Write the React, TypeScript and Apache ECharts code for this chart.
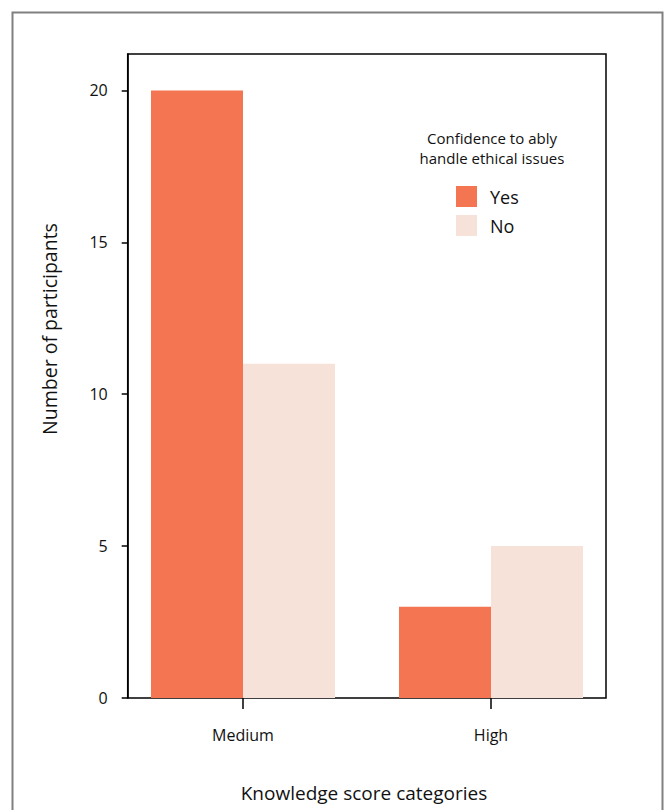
import React, { useEffect, useRef } from "react";
import * as echarts from "echarts";

const categories = ["Medium", "High"];
const yesValues = [20, 3];
const noValues = [11, 5];
const yTicks = [0, 5, 10, 15, 20];
const seriesNames = ["Yes", "No"];
const legendTitle = ["Confidence to ably", "handle ethical issues"];
const xTitle = "Knowledge score categories";
const yTitle = "Number of participants";

const FONT = "'Open Sans', 'Noto Sans', sans-serif";
const YES = "#F47551";
const NO = "#F6E2D8";

export default function App() {
  const ref = useRef<HTMLDivElement>(null);
  useEffect(() => {
    if (!ref.current) return;
    const chart = echarts.init(ref.current, null, { renderer: "svg" });
    const top = 54;
    const height = 644;
    chart.setOption({
      animation: false,
      backgroundColor: "#fff",
      textStyle: { fontFamily: FONT },
      grid: [
        { left: 119, top, width: 496, height, containLabel: false },
        {
          left: 127.7,
          top,
          width: 478.3,
          height,
          show: true,
          borderColor: "#000",
          borderWidth: 1.5,
          backgroundColor: "transparent",
        },
      ],
      xAxis: [
        {
          type: "category",
          gridIndex: 0,
          data: categories,
          axisLine: { show: false },
          axisTick: {
            show: true,
            alignWithLabel: true,
            length: 11,
            lineStyle: { color: "#000", width: 1.5 },
          },
          axisLabel: { fontSize: 16, color: "#111", margin: 29, fontFamily: FONT },
          splitLine: { show: false },
        },
        { type: "category", gridIndex: 1, data: categories, show: false },
      ],
      yAxis: [
        { type: "value", gridIndex: 0, min: 0, max: 21.2, show: false, splitLine: { show: false } },
        {
          type: "value",
          gridIndex: 1,
          min: 0,
          max: 21.2,
          axisLine: { show: true, lineStyle: { color: "#000", width: 1.5 } },
          axisTick: {
            show: true,
            length: 6,
            customValues: yTicks,
            lineStyle: { color: "#000", width: 1.5 },
          },
          axisLabel: {
            fontSize: 16,
            color: "#111",
            margin: 20,
            customValues: yTicks,
            fontFamily: FONT,
          },
          splitLine: { show: false },
        },
      ],
      legend: {
        orient: "vertical",
        left: 456,
        top: 186,
        padding: 0,
        itemWidth: 21,
        itemHeight: 21,
        itemGap: 8,
        icon: "rect",
        data: seriesNames,
        textStyle: { fontSize: 18, color: "#111", fontFamily: FONT, padding: [0, 0, 0, 8] },
      },
      series: [
        {
          name: seriesNames[0],
          type: "bar",
          xAxisIndex: 0,
          yAxisIndex: 0,
          data: yesValues,
          barWidth: 92,
          barGap: "0%",
          itemStyle: { color: YES },
        },
        {
          name: seriesNames[1],
          type: "bar",
          xAxisIndex: 0,
          yAxisIndex: 0,
          data: noValues,
          barWidth: 92,
          barGap: "0%",
          itemStyle: { color: NO },
        },
      ],
      graphic: [
        {
          type: "rect",
          shape: { x: 12.5, y: 12.5, width: 650, height: 900 },
          style: { fill: "none", stroke: "#808080", lineWidth: 2 },
          silent: true,
        },
        {
          type: "text",
          x: 492,
          y: 138,
          style: {
            text: legendTitle[0],
            fontSize: 15,
            fontFamily: FONT,
            fill: "#111",
            align: "center",
            verticalAlign: "middle",
          },
        },
        {
          type: "text",
          x: 492,
          y: 158,
          style: {
            text: legendTitle[1],
            fontSize: 15,
            fontFamily: FONT,
            fill: "#111",
            align: "center",
            verticalAlign: "middle",
          },
        },
        {
          type: "text",
          x: 364,
          y: 793,
          style: {
            text: xTitle,
            fontSize: 19,
            fontFamily: FONT,
            fill: "#111",
            align: "center",
            verticalAlign: "middle",
          },
        },
        {
          type: "text",
          x: 49,
          y: 329,
          rotation: Math.PI / 2,
          style: {
            text: yTitle,
            fontSize: 19.5,
            fontFamily: FONT,
            fill: "#111",
            align: "center",
            verticalAlign: "middle",
          },
        },
      ],
    });
    return () => chart.dispose();
  }, []);
  return (
    <div
      ref={ref}
      style={{ position: "absolute", left: 0, top: 0, width: 665, height: 810 }}
    />
  );
}
